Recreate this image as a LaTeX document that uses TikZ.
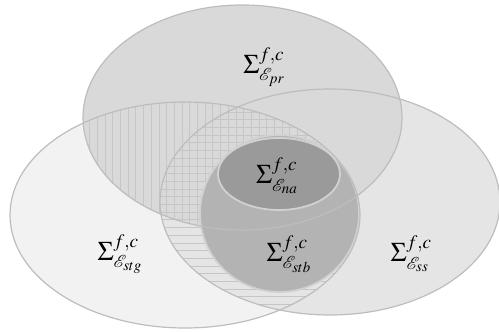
\documentclass[tikz,border=0pt]{standalone}
\usepackage{mathptmx}
\usepackage{mathrsfs}
\DeclareMathSizes{27}{27}{19}{15}
\definecolor{cpr}{HTML}{D9D9D9}
\definecolor{css}{HTML}{E5E5E5}
\definecolor{cstg}{HTML}{F2F2F2}
\definecolor{cstb}{HTML}{B3B3B3}
\definecolor{cna}{HTML}{9A9A9A}
\definecolor{cline}{HTML}{BDBDBD}
\definecolor{chatch}{HTML}{C6C6C6}
\tikzset{
  outl/.style={draw=cline, line width=1.2pt},
  ringl/.style={draw=cline!70!white, line width=1.8pt},
  hatchl/.style={draw=chatch, line width=0.9pt},
  lbl/.style={font=\fontsize{27}{32}\selectfont, inner sep=0pt}
}
\begin{document}
\begin{tikzpicture}[x=1pt,y=-1pt]
\useasboundingbox (0,0) rectangle (499,332);
\def\pr{(242.5,117.5) ellipse [x radius=159.5, y radius=112.5]}
\def\stg{(185,215) ellipse [x radius=175, y radius=113]}
\def\ss{(330,202) ellipse [x radius=170, y radius=113]}
\def\stb{(279.5,213.5) ellipse [x radius=79.5, y radius=78.5]}
\def\na{(279,174) ellipse [x radius=61, y radius=36]}
% fills
\fill[cstg] \stg;
\fill[css] \ss;
\fill[cpr] \pr;
% vertical hatch in pr & stg
\begin{scope}
  \clip \pr; \clip \stg;
  \foreach \i in {0,...,40} {
    \draw[hatchl] ({82+7.7*\i},90) -- ({82+7.7*\i},340);
  }
\end{scope}
% horizontal hatch in stg & ss
\begin{scope}
  \clip \stg; \clip \ss;
  \foreach \i in {0,...,32} {
    \draw[hatchl] (150,{89+7.7*\i}) -- (370,{89+7.7*\i});
  }
\end{scope}
% inner sets
\fill[cstb] \stb;
\fill[cna] \na;
% outlines
\draw[ringl] \stb;
\draw[outl] \stg;
\draw[outl] \ss;
\draw[outl] \pr;
\draw[ringl] \na;
% labels
\node[lbl] (lpr) at (264,67) {$\Sigma^{f,c}_{\mathscr{E}_{pr}}$};
\node[lbl] (lna) at (277,176) {$\Sigma^{f,c}_{\mathscr{E}_{na}}$};
\node[lbl] (lstg) at (120,254) {$\Sigma^{f,c}_{\mathscr{E}_{stg}}$};
\node[lbl] (lstb) at (289,254) {$\Sigma^{f,c}_{\mathscr{E}_{stb}}$};
\node[lbl] (lss) at (411,254) {$\Sigma^{f,c}_{\mathscr{E}_{ss}}$};
\end{tikzpicture}
\end{document}
